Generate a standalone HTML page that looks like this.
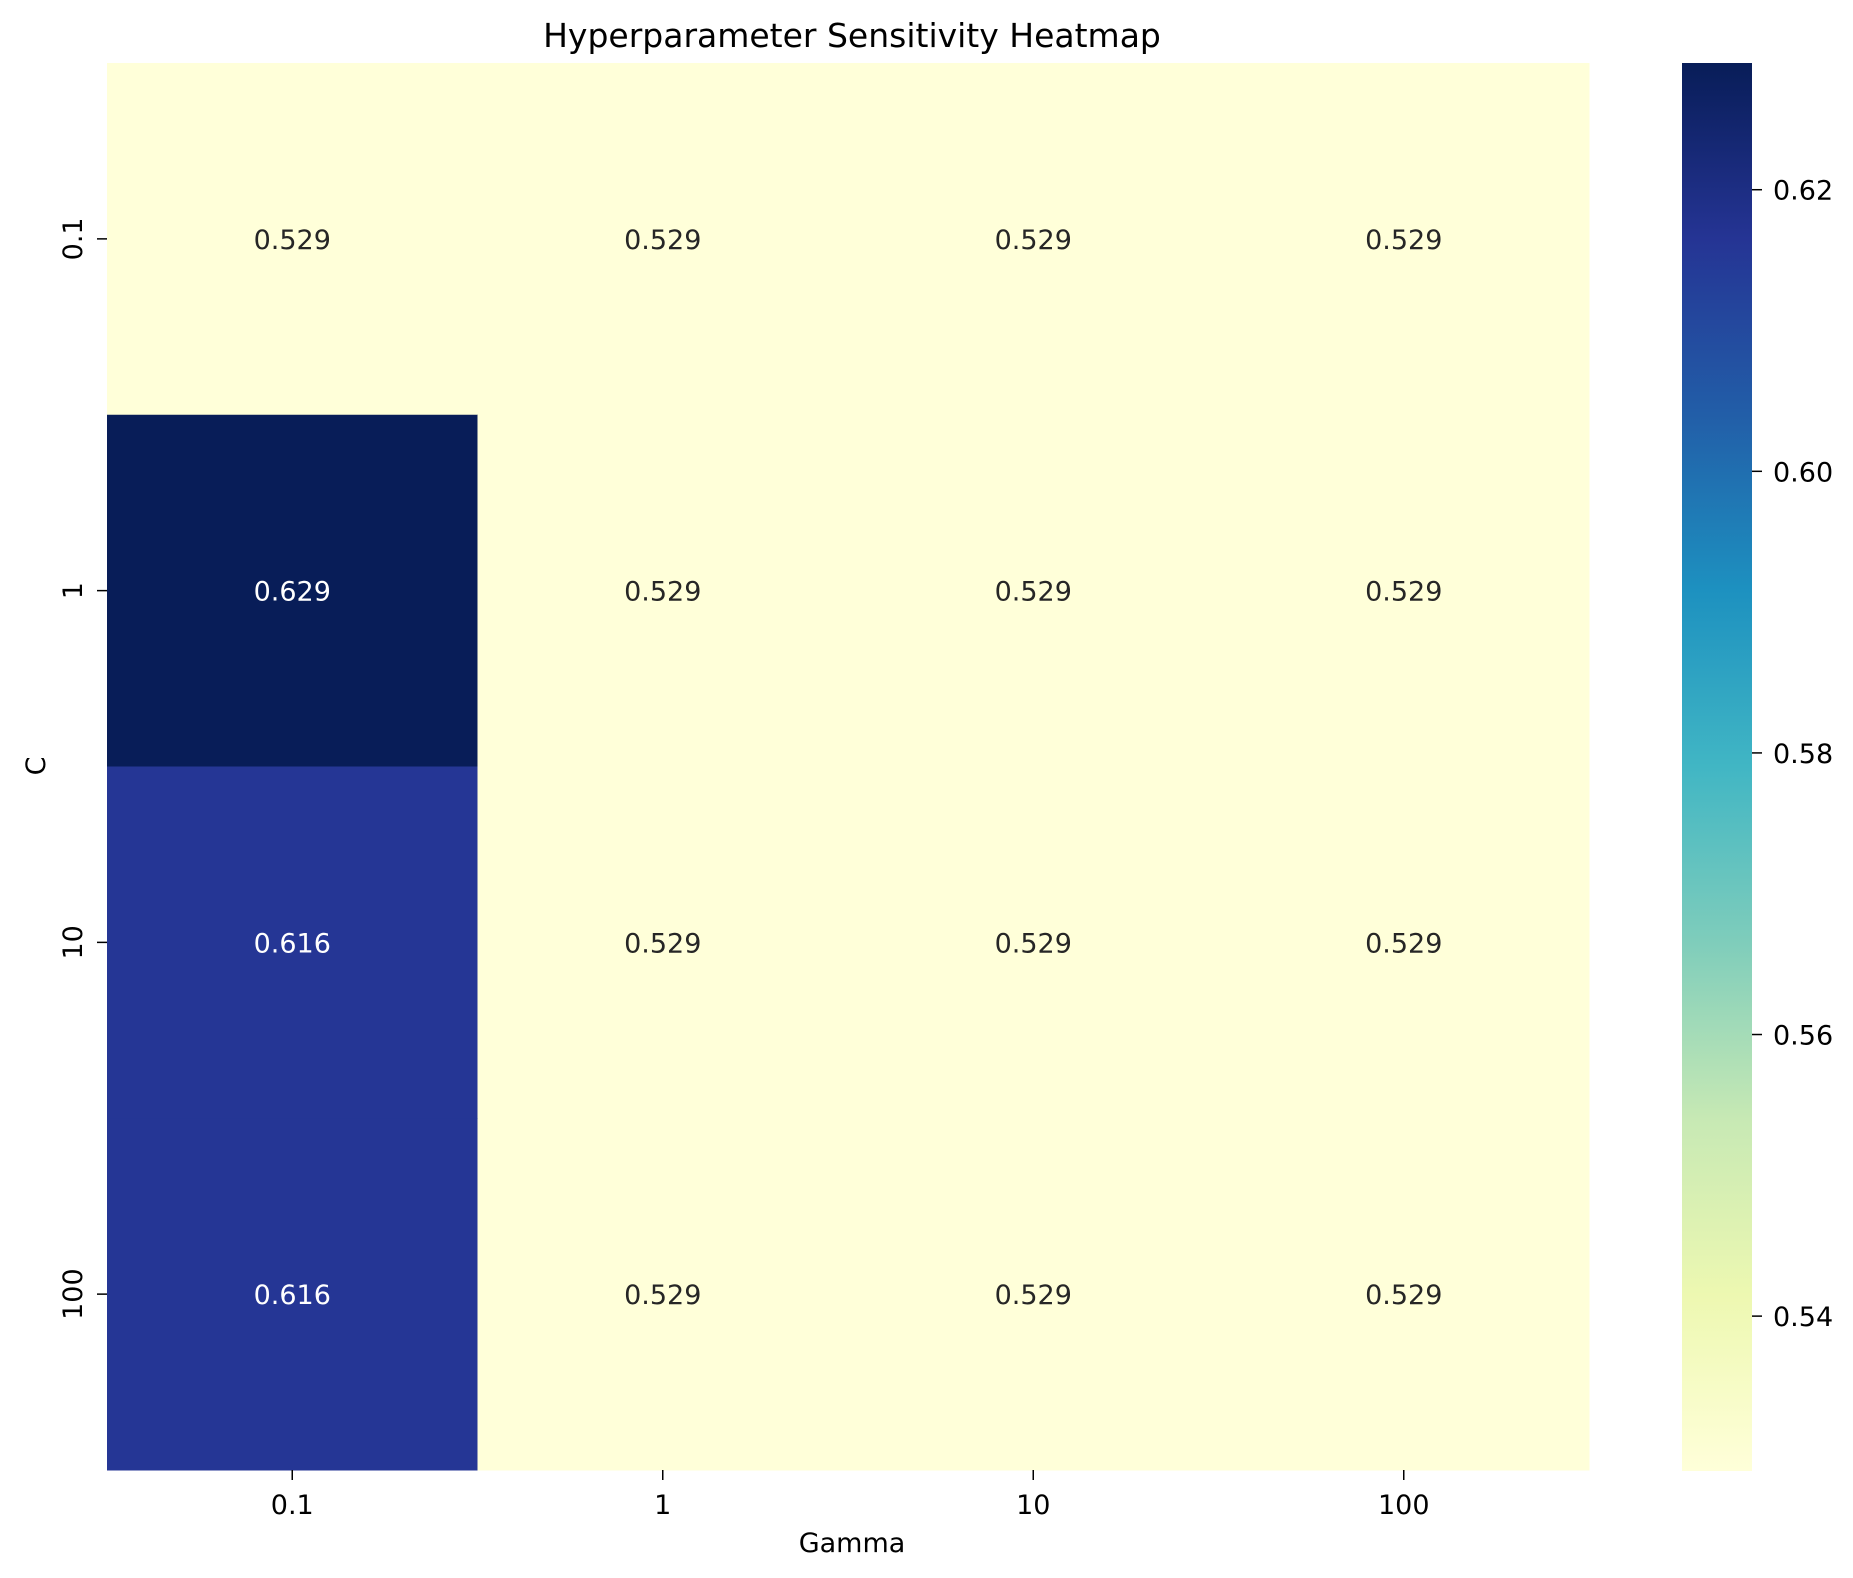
<!DOCTYPE html>
<html><head><meta charset="utf-8"><style>
html,body{margin:0;padding:0;background:#fff;}
svg{display:block;font-family:"DejaVu Sans","Liberation Sans",sans-serif;}
</style></head><body>
<svg id="chart" width="1853" height="1578" xmlns="http://www.w3.org/2000/svg">
<defs><linearGradient id="cbgrad" x1="0" y1="1" x2="0" y2="0"></linearGradient></defs>
<text x="852" y="47" font-size="33" text-anchor="middle" fill="#000">Hyperparameter Sensitivity Heatmap</text>
<g id="cells"></g>
<g id="xticks"></g>
<g id="yticks"></g>
<text x="852" y="1552" font-size="27" text-anchor="middle" fill="#000">Gamma</text>
<text x="0" y="0" font-size="27" text-anchor="middle" fill="#000" transform="translate(45,766) rotate(-90)">C</text>
<rect x="1682" y="63" width="70" height="1408" fill="url(#cbgrad)"></rect>
<g id="cbticks"></g>
</svg>
<script>
const gammaLabels = ["0.1","1","10","100"];
const cLabels = ["0.1","1","10","100"];
const row0 = [0.529,0.529,0.529,0.529];
const row1 = [0.629,0.529,0.529,0.529];
const row2 = [0.616,0.529,0.529,0.529];
const row3 = [0.616,0.529,0.529,0.529];
const cbTicks = [0.54,0.56,0.58,0.60,0.62];

const rows=[row0,row1,row2,row3];
const NS="http://www.w3.org/2000/svg";
const L=107,R=1589,T=63,B=1470;
const cw=(R-L)/gammaLabels.length, ch=(B-T)/cLabels.length;
const all=rows.flat();
const vmin=Math.min(...all), vmax=Math.max(...all);
const cmap=["#ffffd9","#edf8b1","#c7e9b4","#7fcdbb","#41b6c4","#1d91c0","#225ea8","#253494","#081d58"];
function hex(h){return [1,3,5].map(i=>parseInt(h.substr(i,2),16));}
function color(v){let t=(v-vmin)/(vmax-vmin||1);t=Math.max(0,Math.min(1,t));const p=t*(cmap.length-1);const i=Math.min(Math.floor(p),cmap.length-2);const f=p-i;const a=hex(cmap[i]),b=hex(cmap[i+1]);return {rgb:a.map((x,k)=>Math.round(x+(b[k]-x)*f)),t};}
function xPos(j){return L+cw*(j+0.5);}
function yPos(i){return T+ch*(i+0.5);}
function cbY(v){return 1471-(v-vmin)/(vmax-vmin)*(1471-63);}
function mk(tag,attrs,parent){const e=document.createElementNS(NS,tag);for(const k in attrs)e.setAttribute(k,attrs[k]);parent.appendChild(e);return e;}
const cells=document.getElementById('cells');
rows.forEach((row,i)=>row.forEach((v,j)=>{
  const c=color(v);
  const r=mk('rect',{x:L+cw*j,y:T+ch*i,width:cw+0.5,height:ch+0.5,fill:`rgb(${c.rgb.join(',')})`},cells);
  
  
  const lum=(0.299*c.rgb[0]+0.587*c.rgb[1]+0.114*c.rgb[2]);
  const tx=mk('text',{x:xPos(j),y:yPos(i)+10,'font-size':27,'text-anchor':'middle',fill:lum<128?'#ffffff':'#262626'},cells);
  tx.textContent=v.toFixed(3);
  
  
}));
const xt=document.getElementById('xticks');
gammaLabels.forEach((g,j)=>{
  const l=mk('line',{x1:xPos(j),x2:xPos(j),y1:B,y2:B+10,stroke:'#000','stroke-width':1.5},xt);
  
  
  const t=mk('text',{x:xPos(j),y:B+44,'font-size':27,'text-anchor':'middle',fill:'#000'},xt);
  t.textContent=g;
  
  
});
const yt=document.getElementById('yticks');
cLabels.forEach((c,i)=>{
  const l=mk('line',{x1:L-10,x2:L,y1:yPos(i),y2:yPos(i),stroke:'#000','stroke-width':1.5},yt);
  
  
  const t=mk('text',{x:0,y:0,'font-size':27,'text-anchor':'middle',fill:'#000',transform:`translate(82,${yPos(i)}) rotate(-90)`},yt);
  t.textContent=c;
  
  
});
const grad=document.getElementById('cbgrad');
cmap.forEach((h,k)=>mk('stop',{offset:(k/(cmap.length-1)*100)+'%','stop-color':h},grad));
const cbt=document.getElementById('cbticks');
cbTicks.forEach(v=>{
  const y=cbY(v);
  const l=mk('line',{x1:1752,x2:1762,y1:y,y2:y,stroke:'#000','stroke-width':1.5},cbt);
  
  
  const t=mk('text',{x:1773,y:y+10,'font-size':27,fill:'#000'},cbt);
  t.textContent=v.toFixed(2);
  
  
});
</script>
</body></html>
